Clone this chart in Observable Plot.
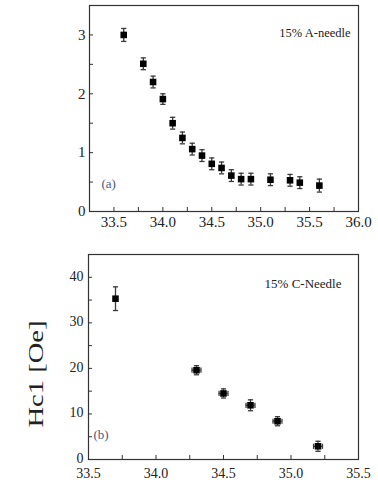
<!DOCTYPE html>
<html>
<head>
<meta charset="utf-8">
<script src="https://cdn.jsdelivr.net/npm/d3@7"></script>
<script src="https://cdn.jsdelivr.net/npm/@observablehq/plot@0.6"></script>
<style>
  html, body { margin: 0; padding: 0; background: #fff; }
  #chart { width: 378px; height: 487px; }
  #chart svg { display: block; }
  #chart svg text { font-family: "Liberation Serif", "Times New Roman", serif; }
</style>
</head>
<body>
<div id="chart"></div>
<script>
// Panel (a): 15% A-needle
const topX = [33.6, 33.8, 33.9, 34.0, 34.1, 34.2, 34.3, 34.4, 34.5, 34.6, 34.7, 34.8, 34.9, 35.1, 35.3, 35.4, 35.6];
const topY = [3.00, 2.51, 2.20, 1.91, 1.50, 1.25, 1.06, 0.95, 0.81, 0.74, 0.61, 0.55, 0.55, 0.54, 0.53, 0.49, 0.44];
const topErr = [0.11, 0.10, 0.10, 0.09, 0.10, 0.10, 0.10, 0.10, 0.10, 0.10, 0.10, 0.10, 0.10, 0.10, 0.10, 0.10, 0.11];
const topXTicks = [33.5, 34.0, 34.5, 35.0, 35.5, 36.0];
const topXMinor = [33.25, 33.5, 33.75, 34.0, 34.25, 34.5, 34.75, 35.0, 35.25, 35.5, 35.75];
const topYTicks = [0, 1, 2, 3];
const topYMinor = [0.5, 1, 1.5, 2, 2.5, 3];

// Panel (b): 15% C-Needle
const botX = [33.7, 34.3, 34.5, 34.7, 34.9, 35.2];
const botY = [35.3, 19.6, 14.5, 11.9, 8.4, 2.9];
const botYErr = [2.6, 1.0, 1.0, 1.2, 1.0, 1.1];
const botXErr = [0.0, 0.033, 0.033, 0.033, 0.033, 0.033];
const botXTicks = [33.5, 34.0, 34.5, 35.0, 35.5];
const botXMinor = [33.75, 34.0, 34.25, 34.5, 34.75, 35.0, 35.25];
const botYTicks = [0, 10, 20, 30, 40];
const botYMinor = [5, 10, 15, 20, 25, 30, 35, 40];

const labels = {a: "15% A-needle", b: "15% C-Needle", pa: "(a)", pb: "(b)", y: "Hc1 [Oe]"};

const topData = topX.map((x, i) => ({x, y: topY[i], e: topErr[i]}));
const botData = botX.map((x, i) => ({x, y: botY[i], e: botYErr[i], ex: botXErr[i]}));

const hline = {draw(ctx, size) { const r = Math.sqrt(size / Math.PI); ctx.moveTo(-r, 0); ctx.lineTo(r, 0); }};
const vline = {draw(ctx, size) { const r = Math.sqrt(size / Math.PI); ctx.moveTo(0, -r); ctx.lineTo(0, r); }};

const fmt1 = d3.format(".1f");
const fmt0 = d3.format("d");
const style = {fontFamily: "Liberation Serif, serif", fontSize: "15px", color: "#222", background: "#fff"};
const errColor = "#3a3a3a";
const blue = "#4a5683";

const topPlot = Plot.plot({
  width: 378, height: 240,
  marginLeft: 89, marginRight: 20, marginTop: 5, marginBottom: 29,
  style,
  x: {domain: [33.25, 36.0]},
  y: {domain: [0, 3.5]},
  marks: [
    Plot.axisX({ticks: topXMinor, tickSize: -4, tickFormat: () => "", label: null, stroke: "#333"}),
    Plot.axisX({ticks: topXTicks, tickSize: 0, tickPadding: 5, tickFormat: fmt1, label: null, fontSize: 15}),
    Plot.axisY({ticks: topYMinor, tickSize: -4, tickFormat: () => "", label: null, stroke: "#333"}),
    Plot.axisY({ticks: topYTicks, tickSize: 0, tickPadding: 4, tickFormat: fmt0, label: null, fontSize: 15}),
    Plot.frame({stroke: "#333", strokeWidth: 1.2}),
    Plot.ruleX(topData, {x: "x", y1: d => d.y - d.e, y2: d => d.y + d.e, stroke: errColor, strokeWidth: 1.3}),
    Plot.dot(topData, {x: "x", y: d => d.y - d.e, symbol: hline, r: 2.6, stroke: errColor, strokeWidth: 1.3, fill: "none"}),
    Plot.dot(topData, {x: "x", y: d => d.y + d.e, symbol: hline, r: 2.6, stroke: errColor, strokeWidth: 1.3, fill: "none"}),
    Plot.dot(topData, {x: "x", y: "y", symbol: "square", r: 3.7, fill: "#000", stroke: "none"}),
    Plot.text([labels.a], {frameAnchor: "top-right", text: d => d, dx: -8, dy: 27, textAnchor: "end", lineAnchor: "middle", fontSize: 12.5, fill: "#222"}),
    Plot.text([labels.pa], {frameAnchor: "bottom-left", text: d => d, dx: 12, dy: -28, textAnchor: "start", lineAnchor: "middle", fontSize: 13, fill: blue})
  ]
});

const bottomPlot = Plot.plot({
  width: 378, height: 247,
  marginLeft: 88, marginRight: 20, marginTop: 14, marginBottom: 28,
  style,
  x: {domain: [33.5, 35.5]},
  y: {domain: [0, 45]},
  marks: [
    Plot.axisX({ticks: botXMinor, tickSize: -4, tickFormat: () => "", label: null, stroke: "#333"}),
    Plot.axisX({ticks: botXTicks, tickSize: 0, tickPadding: 9, tickFormat: fmt1, label: null, fontSize: 14}),
    Plot.axisY({ticks: botYMinor, tickSize: -4, tickFormat: () => "", label: null, stroke: "#333"}),
    Plot.axisY({ticks: botYTicks, tickSize: 0, tickPadding: 5, tickFormat: fmt0, label: null, fontSize: 14, dy: -1}),
    Plot.frame({stroke: "#333", strokeWidth: 1.2}),
    Plot.ruleX(botData, {x: "x", y1: d => d.y - d.e, y2: d => d.y + d.e, stroke: errColor, strokeWidth: 1.3}),
    Plot.dot(botData, {x: "x", y: d => d.y - d.e, symbol: hline, r: 2.6, stroke: errColor, strokeWidth: 1.3, fill: "none"}),
    Plot.dot(botData, {x: "x", y: d => d.y + d.e, symbol: hline, r: 2.6, stroke: errColor, strokeWidth: 1.3, fill: "none"}),
    Plot.ruleY(botData.filter(d => d.ex > 0), {y: "y", x1: d => d.x - d.ex, x2: d => d.x + d.ex, stroke: errColor, strokeWidth: 1.3}),
    Plot.dot(botData.filter(d => d.ex > 0), {x: d => d.x - d.ex, y: "y", symbol: vline, r: 2.6, stroke: errColor, strokeWidth: 1.3, fill: "none"}),
    Plot.dot(botData.filter(d => d.ex > 0), {x: d => d.x + d.ex, y: "y", symbol: vline, r: 2.6, stroke: errColor, strokeWidth: 1.3, fill: "none"}),
    Plot.dot(botData, {x: "x", y: "y", symbol: "square", r: 3.7, fill: "#000", stroke: "none"}),
    Plot.text([labels.b], {frameAnchor: "top-right", text: d => d, dx: -17, dy: 29, textAnchor: "end", lineAnchor: "middle", fontSize: 13, fill: "#222"}),
    Plot.text([labels.pb], {frameAnchor: "bottom-left", text: d => d, dx: 5, dy: -25, textAnchor: "start", lineAnchor: "middle", fontSize: 13, fill: blue}),
    Plot.text([labels.y], {frameAnchor: "left", text: d => d, dx: -53, dy: 17, rotate: -90, textAnchor: "middle", lineAnchor: "middle", fontSize: 22, fill: "#222", className: "ylab"})
  ]
});

document.getElementById("chart").append(topPlot, bottomPlot);
d3.select(bottomPlot).selectAll(".ylab text").attr("textLength", 107).attr("lengthAdjust", "spacingAndGlyphs");
</script>
</body>
</html>
